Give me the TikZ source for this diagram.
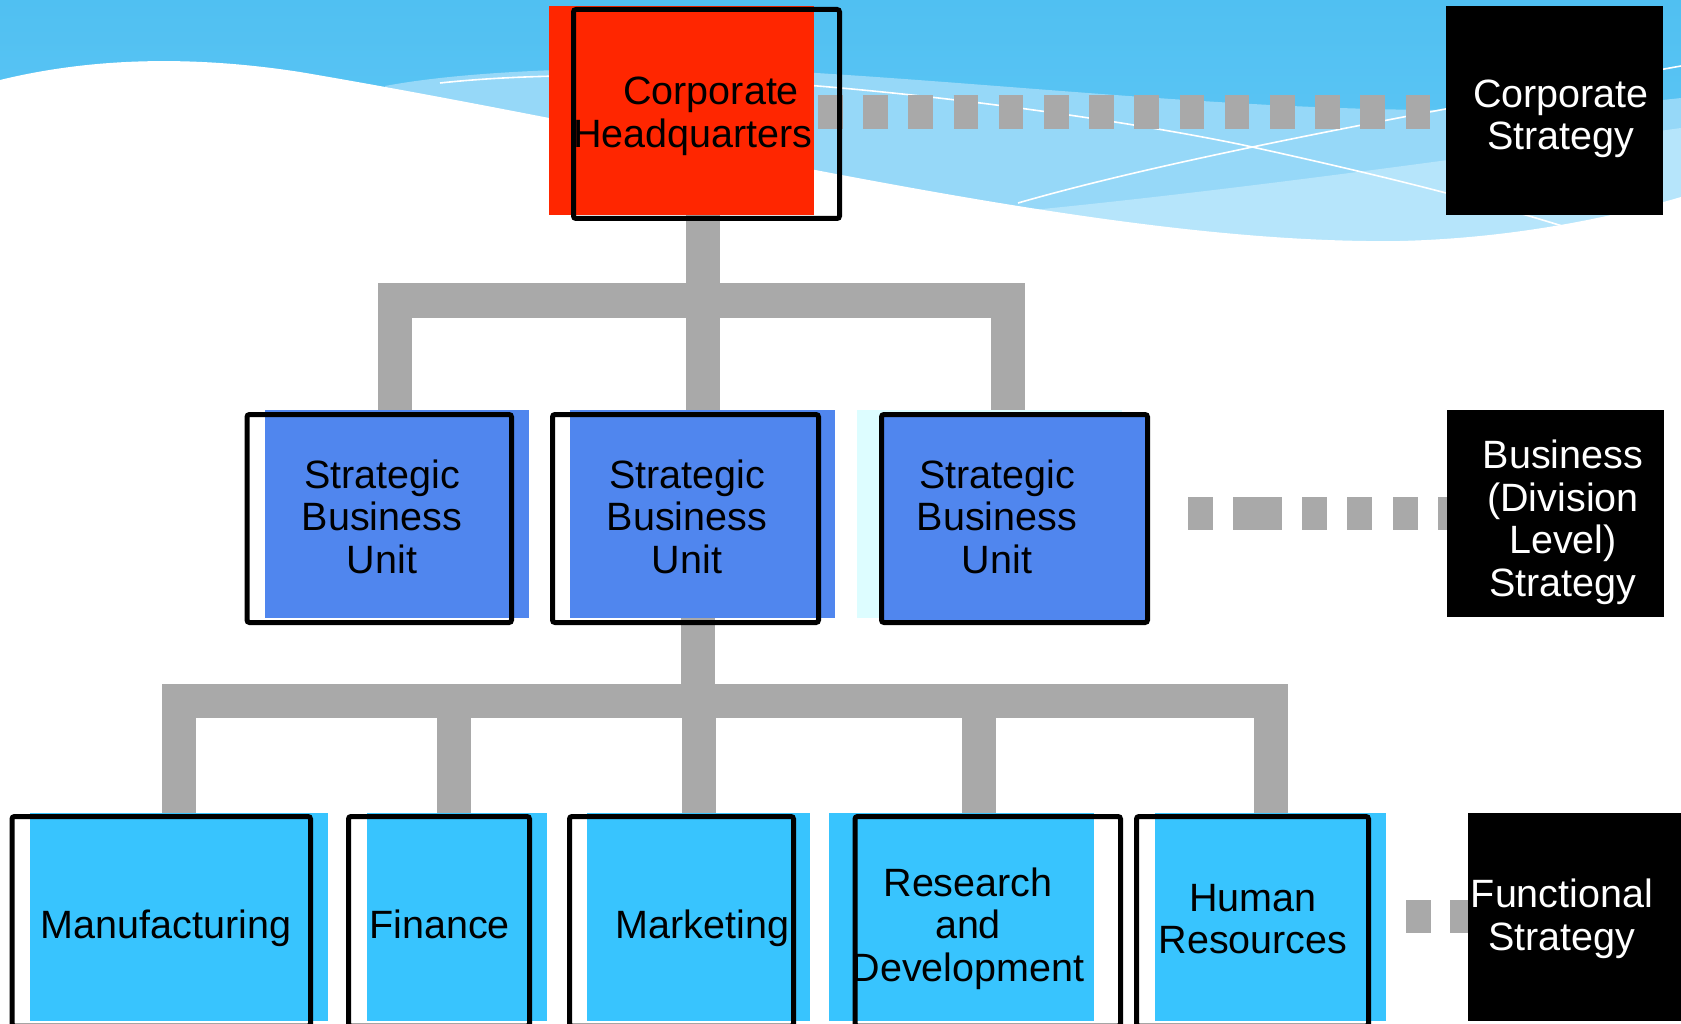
\documentclass[tikz,border=0pt]{standalone}
\usepackage{fontspec}
\setmainfont{Liberation Sans}
\usetikzlibrary{calc}
\definecolor{hqred}{RGB}{255,38,0}
\definecolor{sbublue}{RGB}{80,134,238}
\definecolor{funccyan}{RGB}{56,196,254}
\definecolor{palecyan}{RGB}{221,253,255}
\definecolor{conngrey}{RGB}{169,169,169}
\definecolor{skytop}{RGB}{80,192,242}
\definecolor{skymid}{RGB}{104,202,245}
\definecolor{skylight}{RGB}{150,216,248}
\definecolor{skypale}{RGB}{182,229,251}
\pgfdeclarelayer{back}
\pgfdeclarelayer{mid}
\pgfsetlayers{back,mid,main}
\begin{document}
\begin{tikzpicture}[x=1pt,y=-1pt,
  plate/.style={rectangle, draw=none, inner sep=0pt, outer sep=0pt},
  frame/.style={rectangle, draw=black, line width=5pt, rounded corners=2.5pt, inner sep=0pt, outer sep=0pt},
  lbl/.style={font=\fontsize{39.5}{42.5}\selectfont, align=center, inner sep=0pt, outer sep=0pt},
  conn/.style={draw=conngrey, line width=34pt},
  dotconn/.style={draw=conngrey, line width=33.5pt},
  wline/.style={draw=white, line width=1.6pt}
]
\useasboundingbox (0,0) rectangle (1681,1024);
% ---------- background ----------
\begin{pgfonlayer}{back}
\fill[white] (0,0) rectangle (1681,1024);
\shade[top color=skytop, bottom color=skymid] (0,0) rectangle (1681,300);
\fill[skylight] (385,86) .. controls (470,70) and (620,64) .. (800,72) .. controls (1100,90) and (1400,130) .. (1681,98) -- (1681,320) -- (385,320) -- cycle;
\fill[skypale] (980,215) .. controls (1200,195) and (1450,160) .. (1681,128) -- (1681,320) -- (980,320) -- cycle;
\fill[white] (0,80) .. controls (90,58) and (190,55) .. (300,72) .. controls (700,140) and (1100,245) .. (1400,241) .. controls (1520,238) and (1620,215) .. (1681,197) -- (1681,1024) -- (0,1024) -- cycle;
\draw[wline] (440,83) .. controls (700,55) and (1100,115) .. (1243,145) .. controls (1380,175) and (1480,200) .. (1575,230);
\draw[wline] (1018,203) .. controls (1150,165) and (1350,125) .. (1681,66);
\end{pgfonlayer}
% ---------- boxes (fills) ----------
\node[plate, fill=hqred, minimum width=265pt, minimum height=209pt] (hq) at (681.5,110.5) {};
\node[plate, fill=sbublue, minimum width=264pt, minimum height=208pt] (sbu1) at (397,514) {};
\node[plate, fill=sbublue, minimum width=265pt, minimum height=208pt] (sbu2) at (702.5,514) {};
\node[plate, fill=palecyan, minimum width=265pt, minimum height=208pt] (sbu3p) at (989.5,514) {};
\node[plate, fill=sbublue, minimum width=266pt, minimum height=208pt] (sbu3) at (1014.5,518.5) {};
\node[plate, fill=funccyan, minimum width=298pt, minimum height=208pt] (mf) at (179,917) {};
\node[plate, fill=funccyan, minimum width=180pt, minimum height=208pt] (fi) at (457,917) {};
\node[plate, fill=funccyan, minimum width=223pt, minimum height=208pt] (mk) at (698.5,917) {};
\node[plate, fill=funccyan, minimum width=265pt, minimum height=208pt] (rd) at (961.5,917) {};
\node[plate, fill=funccyan, minimum width=231pt, minimum height=208pt] (hr) at (1270.5,917) {};
% ---------- frames ----------
\node[frame, minimum width=266pt, minimum height=209pt] (hqo) at (706.5,114) {};
\node[frame, minimum width=264.5pt, minimum height=208pt] (sbu1o) at (379.25,518.5) {};
\node[frame, minimum width=266pt, minimum height=208pt] (sbu2o) at (685.5,518.5) {};
\node[frame, minimum width=266pt, minimum height=208pt] (sbu3o) at (1014.5,518.5) {};
\node[frame, minimum width=298.5pt, minimum height=209.5pt] (mfo) at (161.25,921.25) {};
\node[frame, minimum width=181pt, minimum height=209.5pt] (fio) at (439,921.25) {};
\node[frame, minimum width=224pt, minimum height=209.5pt] (mko) at (681.5,921.25) {};
\node[frame, minimum width=265.5pt, minimum height=209.5pt] (rdo) at (987.75,921.25) {};
\node[frame, minimum width=232pt, minimum height=209.5pt] (hro) at (1252.5,921.25) {};
% ---------- connectors (under the boxes) ----------
\coordinate (busA) at (0,300.5);
\coordinate (busB) at (0,700.5);
\begin{pgfonlayer}{mid}
\draw[conn] ($(sbu1.north)+(-2,6)$) -- ($(sbu1.north |- busA)+(-2,0)$) -- ($(sbu3.north |- busA)+(-6.5,0)$) -- ($(sbu3.north)+(-6.5,4)$);
\draw[conn] ($(hqo.south)+(-3.5,-6)$) -- ($(hqo.south |- busA)+(-3.5,0)$);
\draw[conn] ($(sbu2.north)+(0,6)$) -- (sbu2.north |- busA);
\draw[conn] ($(mf.north)+(0,6)$) -- (mf.north |- busB) -- (hr.north |- busB) -- ($(hr.north)+(0,6)$);
\draw[conn] ($(sbu2o.south)+(12.5,-6)$) -- ($(sbu2o.south |- busB)+(12.5,0)$);
\draw[conn] ($(fi.north)+(-3,6)$) -- ($(fi.north |- busB)+(-3,0)$);
\draw[conn] ($(mk.north)+(0,6)$) -- (mk.north |- busB);
\draw[conn] ($(rd.north)+(17.5,6)$) -- ($(rd.north |- busB)+(17.5,0)$);
% ---------- dotted level connectors ----------
\draw[dotconn, dash pattern=on 24.5pt off 20.7pt, dash phase=41.2pt] ($(hq.east)+(0,1.5)$) -- ($(hq.east -| 1446,0)+(0,1.5)$) coordinate (csin);
\draw[dotconn, dash pattern=on 25pt off 20pt on 49pt off 20pt on 25pt off 20pt on 25pt off 21pt on 25pt off 20pt on 25pt off 40.5pt, dash phase=275pt] (sbu3o.east |- 0,513.5) -- (1447,513.5) coordinate (bsin);
\draw[dotconn, dash pattern=on 25pt off 19pt on 40pt off 37.5pt, dash phase=84pt] (hro.east |- 0,916.5) -- (1468,916.5) coordinate (fsin);
\end{pgfonlayer}
% ---------- strategy boxes ----------
\node[plate, fill=black, minimum width=217pt, minimum height=209pt] (cs) at (1554.5,110.5) {};
\node[plate, fill=black, minimum width=217pt, minimum height=207pt] (bs) at (1555.5,513.5) {};
\node[plate, fill=black, minimum width=217pt, minimum height=208pt] (fs) at (1576.5,917) {};
% ---------- labels ----------
\node[lbl, align=left] (hqt) at (693,116.4) {\hspace*{50pt}Corporate\\Headquarters};
\node[lbl, text=white] (cst) at (1561,118.9) {Corporate\\Strategy};
\node[lbl] (sbu1t) at (382,516.8) {Strategic\\Business\\Unit};
\node[lbl] (sbu2t) at (687,516.8) {Strategic\\Business\\Unit};
\node[lbl] (sbu3t) at (997,516.8) {Strategic\\Business\\Unit};
\node[lbl, text=white] (bst) at (1563,522.4) {Business\\(Division\\Level)\\Strategy};
\node[lbl, anchor=base] (mft) at (166,938) {Manufacturing};
\node[lbl, anchor=base] (fit) at (439.5,938) {Finance};
\node[lbl, anchor=base] (mkt) at (702.5,938) {Marketing};
\node[lbl] (rdt) at (968,928.4) {Research\\and\\Development};
\node[lbl] (hrt) at (1253,919.3) {Human\\Resources};
\node[lbl, text=white] (fst) at (1562,918.9) {Functional\\Strategy};
\end{tikzpicture}
\end{document}
